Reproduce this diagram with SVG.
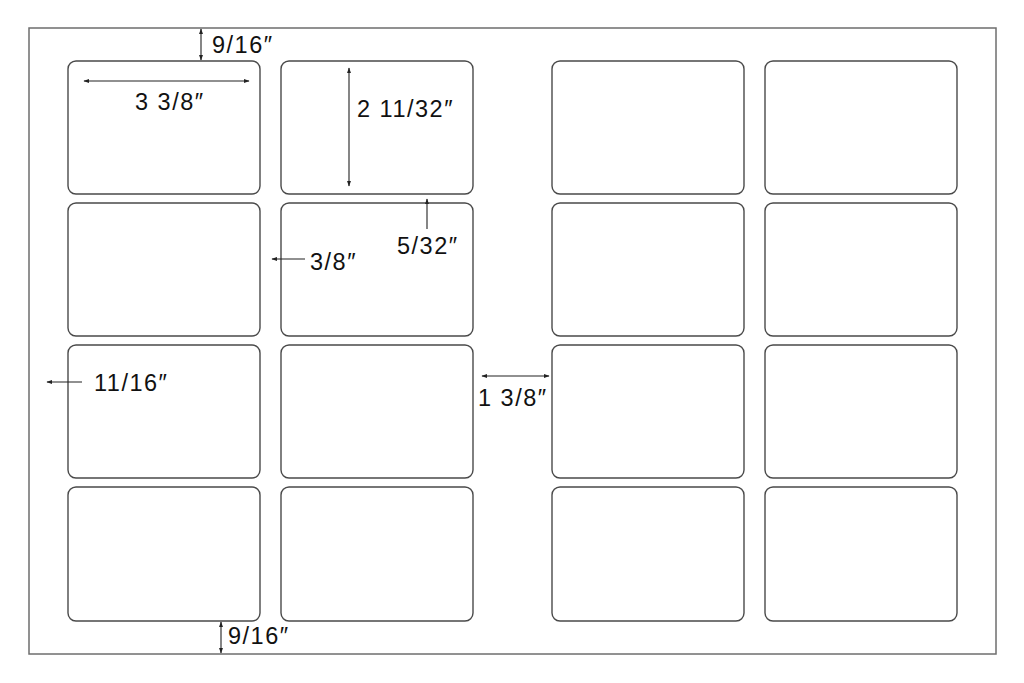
<svg xmlns="http://www.w3.org/2000/svg" width="1024" height="683" viewBox="0 0 1024 683">
<style>
.sheet{fill:#fff;stroke:#6e6e6e;stroke-width:1.5}
.lbl{fill:#fff;stroke:#4a4a4a;stroke-width:1.4}
.dim{stroke:#222;stroke-width:1.1;fill:none}
.t{font-family:"Liberation Sans","DejaVu Sans",sans-serif;font-size:23.5px;letter-spacing:1.5px;fill:#111}
</style>
<defs>
<marker id="ah" viewBox="0 0 10 10" refX="9" refY="5" markerWidth="6" markerHeight="6" markerUnits="userSpaceOnUse" orient="auto-start-reverse">
<path d="M0,1.5 L10,5 L0,8.5 z" fill="#222"/>
</marker>
</defs>
<rect width="1024" height="683" fill="#fff"/>
<rect id="sheet" class="sheet" x="29" y="28" width="967" height="626"/>
<g id="labels">
<rect class="lbl" x="68" y="61" width="192" height="133" rx="8"/>
<rect class="lbl" x="281" y="61" width="192" height="133" rx="8"/>
<rect class="lbl" x="552" y="61" width="192" height="133" rx="8"/>
<rect class="lbl" x="765" y="61" width="192" height="133" rx="8"/>
<rect class="lbl" x="68" y="203" width="192" height="133" rx="8"/>
<rect class="lbl" x="281" y="203" width="192" height="133" rx="8"/>
<rect class="lbl" x="552" y="203" width="192" height="133" rx="8"/>
<rect class="lbl" x="765" y="203" width="192" height="133" rx="8"/>
<rect class="lbl" x="68" y="345" width="192" height="133" rx="8"/>
<rect class="lbl" x="281" y="345" width="192" height="133" rx="8"/>
<rect class="lbl" x="552" y="345" width="192" height="133" rx="8"/>
<rect class="lbl" x="765" y="345" width="192" height="133" rx="8"/>
<rect class="lbl" x="68" y="487" width="192" height="134" rx="8"/>
<rect class="lbl" x="281" y="487" width="192" height="134" rx="8"/>
<rect class="lbl" x="552" y="487" width="192" height="134" rx="8"/>
<rect class="lbl" x="765" y="487" width="192" height="134" rx="8"/>
</g>
<g id="connectors">
<line class="dim" x1="201" y1="29" x2="201" y2="60" marker-start="url(#ah)" marker-end="url(#ah)"/>
<line class="dim" x1="84" y1="81" x2="249" y2="81" marker-start="url(#ah)" marker-end="url(#ah)"/>
<line class="dim" x1="349" y1="68" x2="349" y2="186" marker-start="url(#ah)" marker-end="url(#ah)"/>
<line class="dim" x1="427" y1="229" x2="427" y2="199" marker-end="url(#ah)"/>
<line class="dim" x1="305" y1="259" x2="272" y2="259" marker-end="url(#ah)"/>
<line class="dim" x1="482" y1="376" x2="549" y2="376" marker-start="url(#ah)" marker-end="url(#ah)"/>
<line class="dim" x1="82" y1="382" x2="47" y2="382" marker-end="url(#ah)"/>
<line class="dim" x1="221" y1="622" x2="221" y2="653" marker-start="url(#ah)" marker-end="url(#ah)"/>
</g>
<g id="texts">
<text class="t" x="212" y="53">9/16″</text>
<text class="t" x="135" y="110">3 3/8″</text>
<text class="t" x="357" y="117">2 11/32″</text>
<text class="t" x="397" y="254">5/32″</text>
<text class="t" x="310" y="270">3/8″</text>
<text class="t" x="478" y="406">1 3/8″</text>
<text class="t" x="94" y="391">11/16″</text>
<text class="t" x="228" y="644">9/16″</text>
</g>
</svg>
